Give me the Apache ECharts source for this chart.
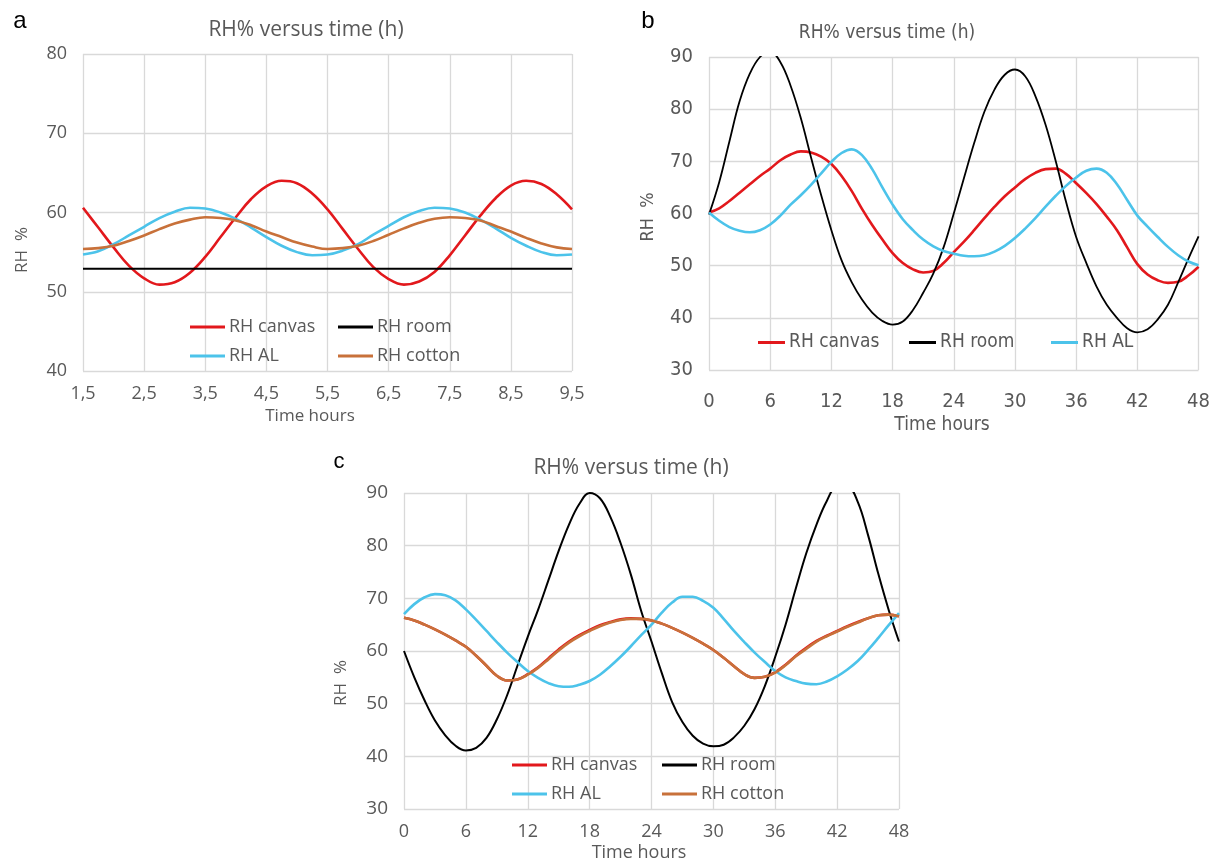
<!DOCTYPE html>
<html>
<head>
<meta charset="utf-8">
<script src="https://cdn.jsdelivr.net/npm/echarts@6/dist/echarts.min.js"></script>
<style>
  html, body { margin: 0; padding: 0; background: #fff; }
  #main { width: 1213px; height: 861px; }
</style>
</head>
<body>
<div id="main"></div>
<script>
// panel a : hours 1.5 - 9.5
var hoursA = [1.5, 1.75, 2, 2.25, 2.5, 2.75, 3, 3.25, 3.5, 3.75,
  4, 4.25, 4.5, 4.75, 5, 5.25, 5.5, 5.75, 6, 6.25,
  6.5, 6.75, 7, 7.25, 7.5, 7.75, 8, 8.25, 8.5, 8.75,
  9, 9.25, 9.5];
var canvasA = [60.6, 58.1, 55.6, 53.3, 51.7, 50.9, 51.2, 52.4, 54.4, 56.9,
  59.4, 61.7, 63.3, 64.0, 63.7, 62.4, 60.4, 57.9, 55.4, 53.1,
  51.6, 50.9, 51.3, 52.5, 54.6, 57.1, 59.6, 61.8, 63.4, 64.0,
  63.6, 62.3, 60.4];
var roomA = [52.9, 52.9, 52.9, 52.9, 52.9, 52.9, 52.9, 52.9, 52.9, 52.9,
  52.9, 52.9, 52.9, 52.9, 52.9, 52.9, 52.9, 52.9, 52.9, 52.9,
  52.9, 52.9, 52.9, 52.9, 52.9, 52.9, 52.9, 52.9, 52.9, 52.9,
  52.9, 52.9, 52.9];
var alA = [54.7, 55.1, 56.0, 57.1, 58.2, 59.3, 60.1, 60.6, 60.5, 60.0,
  59.2, 58.1, 56.9, 55.8, 55.0, 54.6, 54.7, 55.2, 56.0, 57.2,
  58.3, 59.4, 60.2, 60.6, 60.5, 60.0, 59.1, 58.0, 56.8, 55.8,
  55.0, 54.6, 54.7];
var cottonA = [55.4, 55.5, 55.8, 56.4, 57.1, 57.9, 58.6, 59.1, 59.4, 59.3,
  59.0, 58.4, 57.6, 56.9, 56.2, 55.7, 55.4, 55.5, 55.8, 56.4,
  57.2, 58.0, 58.7, 59.2, 59.4, 59.3, 59.0, 58.3, 57.6, 56.8,
  56.1, 55.6, 55.4];

// panels b and c : hours 0 - 48
var hoursBC = [0, 1, 2, 3, 4, 5, 6, 7, 8, 9,
  10, 11, 12, 13, 14, 15, 16, 17, 18, 19,
  20, 21, 22, 23, 24, 25, 26, 27, 28, 29,
  30, 31, 32, 33, 34, 35, 36, 37, 38, 39,
  40, 41, 42, 43, 44, 45, 46, 47, 48];

var canvasB = [60.2, 61.0, 62.4, 64.0, 65.6, 67.2, 68.6, 70.2, 71.3, 71.9,
  71.7, 70.9, 69.5, 67.2, 64.3, 60.9, 57.8, 55.0, 52.4, 50.5,
  49.3, 48.7, 49.0, 50.5, 52.6, 54.6, 56.8, 59.1, 61.3, 63.3,
  65.0, 66.6, 67.8, 68.5, 68.6, 67.6, 65.8, 63.9, 61.8, 59.4,
  56.8, 53.5, 50.3, 48.3, 47.2, 46.7, 46.9, 48.1, 49.8];
var roomB = [59.8, 66.0, 73.8, 81.5, 86.8, 90.0, 91.0, 89.0, 84.5, 78.3,
  70.8, 63.5, 56.8, 51.0, 46.8, 43.5, 41.0, 39.4, 38.7, 39.3,
  41.5, 44.8, 48.5, 53.5, 60.0, 66.8, 73.5, 79.5, 83.8, 86.6,
  87.6, 86.3, 82.5, 77.0, 70.0, 62.3, 55.5, 50.5, 46.0, 42.5,
  40.0, 38.0, 37.2, 37.8, 39.7, 42.5, 46.8, 51.3, 55.6];
var alB = [60.2, 58.6, 57.4, 56.7, 56.4, 56.8, 57.9, 59.6, 61.7, 63.5,
  65.5, 67.7, 69.9, 71.6, 72.3, 71.2, 68.5, 65.0, 61.7, 58.9,
  56.8, 55.0, 53.7, 52.8, 52.3, 51.9, 51.8, 52.0, 52.7, 53.8,
  55.3, 57.1, 59.1, 61.3, 63.4, 65.3, 66.9, 68.2, 68.6, 67.8,
  65.6, 62.6, 59.6, 57.5, 55.5, 53.6, 52.0, 50.8, 50.1];

var canvasC = [66.3, 65.8, 65.0, 64.1, 63.1, 62.0, 60.8, 59.1, 57.2, 55.3,
  54.4, 54.6, 55.6, 56.9, 58.6, 60.3, 61.8, 63.0, 64.0, 64.9,
  65.5, 66.0, 66.2, 66.1, 65.8, 65.2, 64.4, 63.5, 62.5, 61.4,
  60.2, 58.7, 57.1, 55.6, 54.9, 55.1, 56.0, 57.4, 59.1, 60.6,
  61.9, 62.9, 63.8, 64.7, 65.5, 66.2, 66.8, 66.9, 66.6];
var roomC = [60.0, 55.0, 50.6, 46.8, 44.0, 42.0, 41.1, 41.6, 43.5, 47.0,
  51.6, 57.2, 62.7, 67.8, 73.4, 79.0, 84.0, 87.9, 90.0, 89.0,
  85.5, 80.5, 74.5, 67.6, 61.8, 55.8, 50.3, 46.5, 43.9, 42.4,
  41.9, 42.2, 43.6, 45.8, 49.0, 53.4, 58.9, 65.0, 71.9, 78.5,
  84.0, 88.5, 91.2, 91.2, 88.3, 82.0, 74.6, 67.8, 61.8];
var alC = [67.0, 68.9, 70.2, 70.8, 70.6, 69.6, 67.9, 65.9, 63.8, 61.7,
  59.7, 57.9, 56.2, 54.9, 53.9, 53.3, 53.2, 53.6, 54.3, 55.5,
  57.1, 58.9, 60.9, 63.0, 65.0, 67.3, 69.2, 70.3, 70.3, 69.5,
  68.2, 66.1, 63.8, 61.7, 59.7, 57.9, 56.2, 55.0, 54.3, 53.8,
  53.7, 54.2, 55.2, 56.5, 58.1, 60.2, 62.5, 64.9, 67.2];
var cottonC = [66.3, 65.8, 65.0, 64.1, 63.1, 62.0, 60.8, 59.1, 57.2, 55.3,
  54.4, 54.6, 55.5, 56.8, 58.4, 60.1, 61.6, 62.8, 63.8, 64.7,
  65.4, 65.9, 66.1, 66.1, 65.8, 65.2, 64.4, 63.5, 62.5, 61.4,
  60.2, 58.7, 57.1, 55.6, 54.9, 55.1, 55.9, 57.3, 59.0, 60.4,
  61.8, 62.8, 63.7, 64.6, 65.4, 66.2, 66.8, 66.9, 66.6];

var colors = { 'RH canvas': '#e2181c', 'RH room': '#000000', 'RH AL': '#4cc3ea', 'RH cotton': '#c8713a' };

var grey = '#595959';
var gridGrey = '#d9d9d9';
var fontA = "'Open Sans', sans-serif";
var fontB = "'Liberation Sans Narrow', 'DejaVu Sans Condensed', sans-serif";

function pairs(xs, ys) {
  return xs.map(function (x, i) { return [x, ys[i]]; });
}

function line(name, idx, xs, ys, width) {
  return {
    name: name,
    type: 'line',
    xAxisIndex: idx,
    yAxisIndex: idx,
    data: pairs(xs, ys),
    smooth: 0.4,
    symbol: 'none',
    clip: true,
    color: colors[name],
    lineStyle: { color: colors[name], width: width }
  };
}

function xAxis(idx, min, max, interval, font, size, margin) {
  return {
    type: 'value', gridIndex: idx, min: min, max: max, interval: interval,
    axisLine: { show: false }, axisTick: { show: false },
    splitLine: { show: true, lineStyle: { color: gridGrey, width: 1.3 } },
    axisLabel: {
      color: grey, fontFamily: font, fontSize: size, margin: margin,
      formatter: function (v) { return String(v).replace('.', ','); }
    }
  };
}

function yAxis(idx, min, max, font, size, margin) {
  return {
    type: 'value', gridIndex: idx, min: min, max: max, interval: 10,
    axisLine: { show: false }, axisTick: { show: false },
    splitLine: { show: true, lineStyle: { color: gridGrey, width: 1.3 } },
    axisLabel: { color: grey, fontFamily: font, fontSize: size, margin: margin }
  };
}

// one legend per entry so the columns line up like the original
function legendItem(name, left, top, font, size, w) {
  return {
    data: [name], left: left, top: top, icon: 'rect',
    itemWidth: w, itemHeight: 3, itemGap: 0,
    padding: 0, selectedMode: false,
    textStyle: { color: grey, fontFamily: font, fontSize: size, padding: [0, 0, 0, -1] }
  };
}

function label(text, x, y, font, size, rot, color) {
  return {
    type: 'text', x: x, y: y, rotation: rot || 0,
    style: {
      text: text, fill: color || grey, font: size + 'px ' + font,
      align: 'center', verticalAlign: 'middle'
    }
  };
}

var myChart = echarts.init(document.getElementById('main'));

var option = {
  backgroundColor: '#fff',
  animation: false,
  title: [
    { text: 'RH% versus time (h)', left: 301, top: 15, textAlign: 'center',
      textStyle: { color: grey, fontFamily: fontA, fontSize: 21, fontWeight: 'normal' } },
    { text: 'RH% versus time (h)', left: 882, top: 19, textAlign: 'center',
      textStyle: { color: grey, fontFamily: fontB, fontSize: 19, fontWeight: 'normal' } },
    { text: 'RH% versus time (h)', left: 626, top: 453, textAlign: 'center',
      textStyle: { color: grey, fontFamily: fontA, fontSize: 21, fontWeight: 'normal' } }
  ],
  grid: [
    { left: 83, top: 54, width: 489, height: 317 },
    { left: 709, top: 57, width: 494, height: 313 },
    { left: 404, top: 493, width: 495, height: 316 }
  ],
  xAxis: [
    xAxis(0, 1.5, 9.5, 1, fontA, 18, 14),
    xAxis(1, 0, 48, 6, fontB, 20, 22),
    xAxis(2, 0, 48, 6, fontA, 18, 14)
  ],
  yAxis: [
    yAxis(0, 40, 80, fontA, 18, 16),
    yAxis(1, 30, 90, fontB, 20, 16),
    yAxis(2, 30, 90, fontA, 19, 16)
  ],
  legend: [
    legendItem('RH canvas', 190, 318, fontA, 18, 35),
    legendItem('RH room', 338, 318, fontA, 18, 35),
    legendItem('RH AL', 190, 347, fontA, 18, 35),
    legendItem('RH cotton', 338, 347, fontA, 18, 35),
    legendItem('RH canvas', 758, 333, fontB, 19, 27),
    legendItem('RH room', 909, 333, fontB, 19, 27),
    legendItem('RH AL', 1051, 333, fontB, 19, 27),
    legendItem('RH canvas', 512, 756, fontA, 18, 35),
    legendItem('RH room', 662, 756, fontA, 18, 35),
    legendItem('RH AL', 512, 785, fontA, 18, 35),
    legendItem('RH cotton', 662, 785, fontA, 18, 35)
  ],
  graphic: [
    label('a', 20, 21, "'Liberation Sans', Arial, sans-serif", 24, 0, '#000'),
    label('b', 648, 21, "'Liberation Sans', Arial, sans-serif", 24, 0, '#000'),
    label('c', 339, 462, "'Liberation Sans', Arial, sans-serif", 22, 0, '#000'),
    label('Time hours', 310, 416, fontA, 17),
    label('Time hours', 942, 425, fontB, 19),
    label('Time hours', 639, 853, fontA, 18),
    label('RH  %', 22, 250, fontA, 17, Math.PI / 2),
    label('RH  %', 648, 217, fontB, 18, Math.PI / 2),
    label('RH  %', 341, 683, fontA, 17, Math.PI / 2)
  ],
  series: [
    line('RH canvas', 0, hoursA, canvasA, 2.6),
    line('RH room', 0, hoursA, roomA, 2),
    line('RH AL', 0, hoursA, alA, 2.6),
    line('RH cotton', 0, hoursA, cottonA, 2.6),
    line('RH canvas', 1, hoursBC, canvasB, 2.6),
    line('RH room', 1, hoursBC, roomB, 1.8),
    line('RH AL', 1, hoursBC, alB, 2.6),
    line('RH canvas', 2, hoursBC, canvasC, 2.6),
    line('RH room', 2, hoursBC, roomC, 2),
    line('RH AL', 2, hoursBC, alC, 2.6),
    line('RH cotton', 2, hoursBC, cottonC, 2.6)
  ]
};

myChart.setOption(option);
</script>
</body>
</html>
